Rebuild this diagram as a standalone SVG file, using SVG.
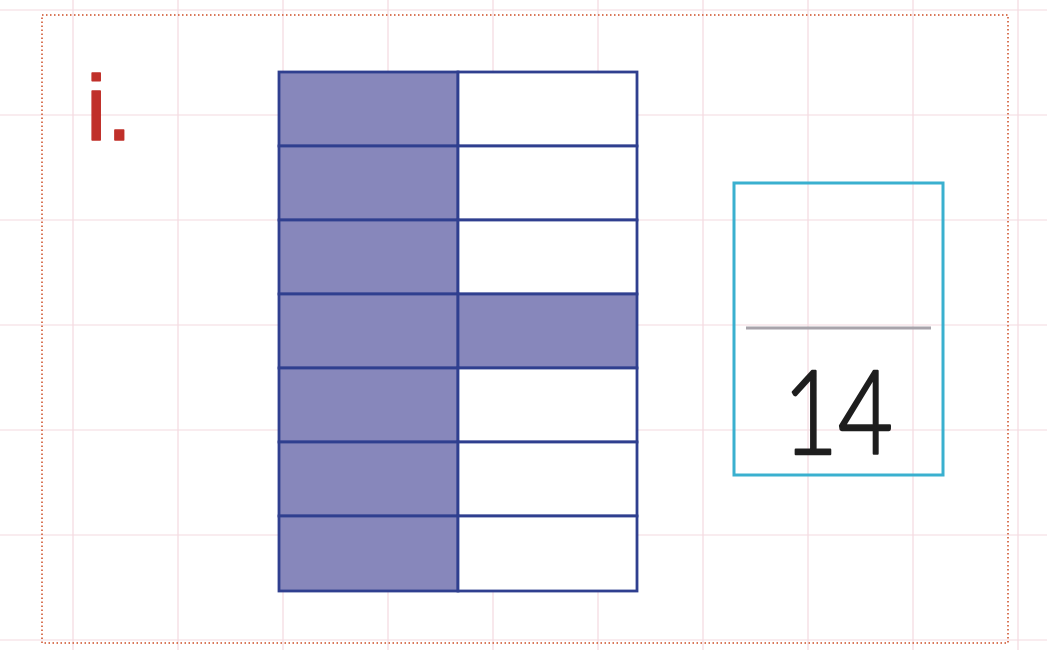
<svg xmlns="http://www.w3.org/2000/svg" width="1047" height="650" viewBox="0 0 1047 650">
<style>
.grid line{stroke:#f3d9df;stroke-width:1.2}
.cell{stroke:#2f3f8f;stroke-width:2.8}
.on{fill:#8787bb}
.off{fill:#ffffff}
</style>
<rect width="1047" height="650" fill="#ffffff"/>
<g class="grid">
<line x1="73" y1="0" x2="73" y2="650"/>
<line x1="178" y1="0" x2="178" y2="650"/>
<line x1="283" y1="0" x2="283" y2="650"/>
<line x1="388" y1="0" x2="388" y2="650"/>
<line x1="493" y1="0" x2="493" y2="650"/>
<line x1="598" y1="0" x2="598" y2="650"/>
<line x1="703" y1="0" x2="703" y2="650"/>
<line x1="808" y1="0" x2="808" y2="650"/>
<line x1="913" y1="0" x2="913" y2="650"/>
<line x1="1018" y1="0" x2="1018" y2="650"/>
<line x1="0" y1="10" x2="1047" y2="10"/>
<line x1="0" y1="115" x2="1047" y2="115"/>
<line x1="0" y1="220" x2="1047" y2="220"/>
<line x1="0" y1="325" x2="1047" y2="325"/>
<line x1="0" y1="430" x2="1047" y2="430"/>
<line x1="0" y1="535" x2="1047" y2="535"/>
<line x1="0" y1="640" x2="1047" y2="640"/>
</g>
<rect x="42" y="15" width="966" height="628" fill="none" stroke="#d9785a" stroke-width="2" stroke-dasharray="1.5 2.5"/>
<text id="label" x="86" y="140" font-family="Liberation Sans, Arial, sans-serif" font-size="92" fill="#c0302a" stroke="#c0302a" stroke-width="1.5" stroke-linejoin="round">i.</text>
<g id="bar">
<rect class="cell on" x="279" y="72" width="179" height="74"/>
<rect class="cell off" x="458" y="72" width="179" height="74"/>
<rect class="cell on" x="279" y="146" width="179" height="74"/>
<rect class="cell off" x="458" y="146" width="179" height="74"/>
<rect class="cell on" x="279" y="220" width="179" height="74"/>
<rect class="cell off" x="458" y="220" width="179" height="74"/>
<rect class="cell on" x="279" y="294" width="179" height="74"/>
<rect class="cell on" x="458" y="294" width="179" height="74"/>
<rect class="cell on" x="279" y="368" width="179" height="74"/>
<rect class="cell off" x="458" y="368" width="179" height="74"/>
<rect class="cell on" x="279" y="442" width="179" height="74"/>
<rect class="cell off" x="458" y="442" width="179" height="74"/>
<rect class="cell on" x="279" y="516" width="179" height="75"/>
<rect class="cell off" x="458" y="516" width="179" height="75"/>
</g>
<g id="fraction">
<rect x="734" y="183" width="209" height="292" fill="none" stroke="#3ab0cf" stroke-width="3"/>
<line x1="746" y1="328" x2="931" y2="328" stroke="#a8a4ab" stroke-width="3"/>
<text x="838" y="454" text-anchor="middle" font-family="Lato, 'Open Sans', sans-serif" font-weight="300" font-size="116" fill="#1e1e1e" stroke="#1e1e1e" stroke-width="2.5" stroke-linejoin="round" textLength="110" lengthAdjust="spacingAndGlyphs">14</text>
</g>
</svg>
